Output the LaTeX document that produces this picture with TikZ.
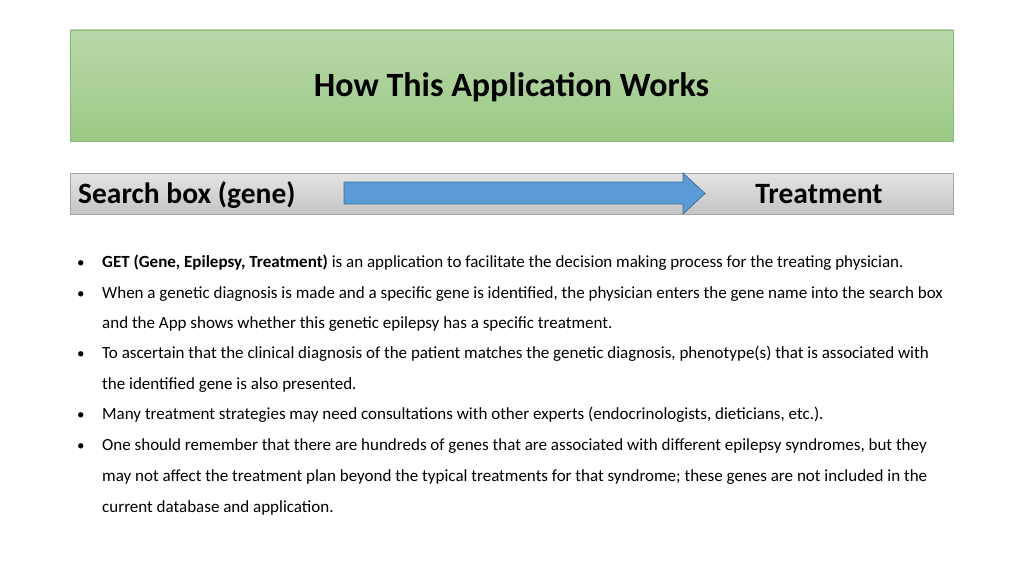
\documentclass[tikz,border=0pt]{standalone}
\usepackage{fontspec}
\setmainfont{Carlito}
\definecolor{gtop}{HTML}{B8D8A9}
\definecolor{gbot}{HTML}{9CC985}
\definecolor{gbord}{HTML}{8DBB76}
\definecolor{btop}{HTML}{E4E4E4}
\definecolor{bbot}{HTML}{C4C4C4}
\definecolor{blu}{HTML}{5B9BD5}
\definecolor{bluE}{HTML}{41719C}
\begin{document}
\begin{tikzpicture}[x=1pt,y=-1pt,
  txt/.style={anchor=base west,inner sep=0pt,font=\fontsize{17}{20}\selectfont},
  bul/.style={anchor=base west,inner sep=0pt,font=\fontsize{15}{18}\selectfont}]
\useasboundingbox[fill=white] (0,0) rectangle (1024,575);
\shade[top color=gtop,bottom color=gbot,draw=gbord,line width=0.6pt] (70,30) rectangle (953,141);
\node[inner sep=0pt,font=\fontsize{34}{40}\bfseries\selectfont] (title) at (511.5,87) {How This Application Works};
\shade[top color=btop,bottom color=bbot,draw=gray!70,line width=0.6pt] (70,173) rectangle (953,214);
\node[anchor=base west,inner sep=0pt,font=\fontsize{29.5}{34}\bfseries\selectfont] (search) at (78,203) {Search box (gene)};
\node[anchor=base,inner sep=0pt,font=\fontsize{29.5}{34}\bfseries\selectfont] (treat) at (819,203) {Treatment};
\draw[fill=blu,draw=bluE,line width=0.8pt] (344,182) -- (683,182) -- (683,173) -- (705,193.5) -- (683,214) -- (683,204) -- (344,204) -- cycle;
\foreach \y in {267,298,358,419,450} {\node[bul] at (77,\y) {•};}
\node[txt] (l1) at (102,267) {\textbf{GET (Gene, Epilepsy, Treatment)} is an application to facilitate the decision making process for the treating physician.};
\node[txt] (l2) at (102,298) {When a genetic diagnosis is made and a specific gene is identified, the physician enters the gene name into the search box};
\node[txt] (l3) at (102,328) {and the App shows whether this genetic epilepsy has a specific treatment.};
\node[txt] (l4) at (102,358) {To ascertain that the clinical diagnosis of the patient matches the genetic diagnosis, phenotype(s) that is associated with};
\node[txt] (l5) at (102,389) {the identified gene is also presented.};
\node[txt] (l6) at (102,419) {Many treatment strategies may need consultations with other experts (endocrinologists, dieticians, etc.).};
\node[txt] (l7) at (102,450) {One should remember that there are hundreds of genes that are associated with different epilepsy syndromes, but they};
\node[txt] (l8) at (102,481) {may not affect the treatment plan beyond the typical treatments for that syndrome; these genes are not included in the};
\node[txt] (l9) at (102,512) {current database and application.};
\end{tikzpicture}
\end{document}
